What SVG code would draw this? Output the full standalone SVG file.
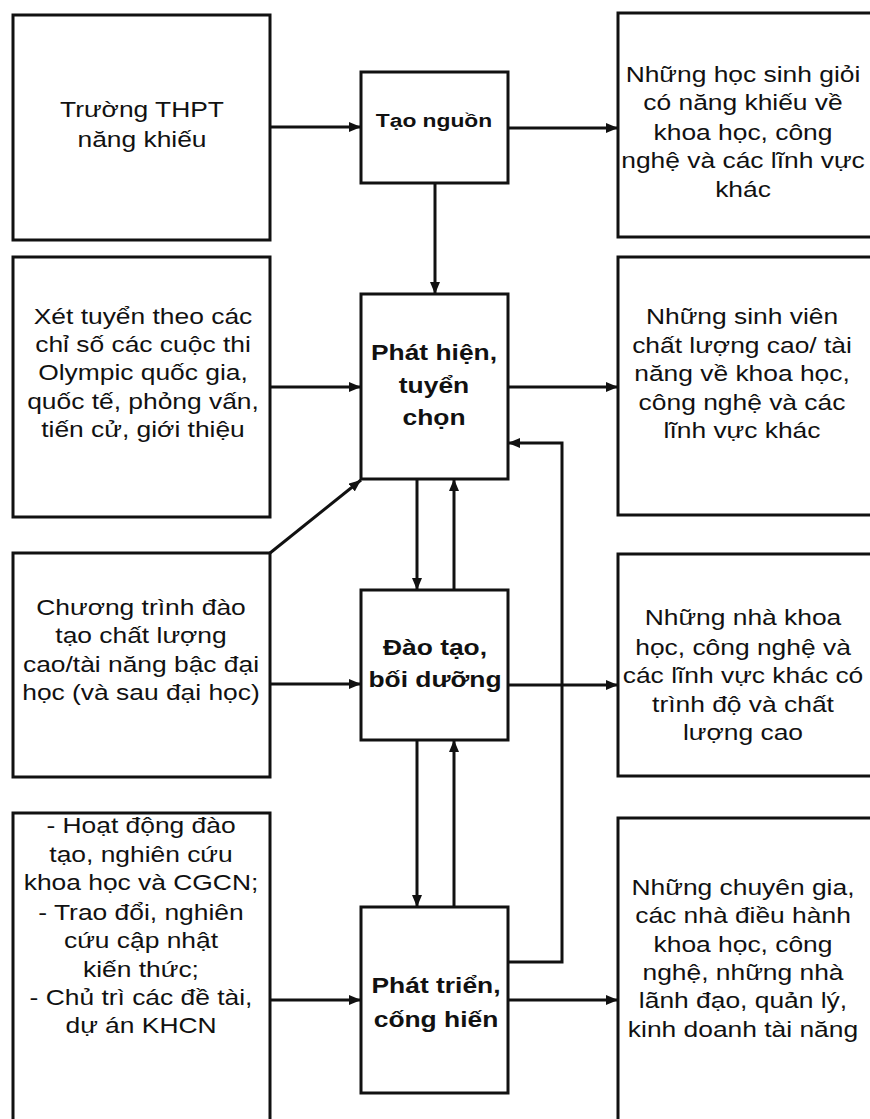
<svg xmlns="http://www.w3.org/2000/svg" width="870" height="1119" viewBox="0 0 870 1119">
<style>
.box{fill:#fff;stroke:#111;stroke-width:3}
.ln{fill:none;stroke:#111;stroke-width:3}
.t{font-family:"Liberation Sans",Arial,sans-serif;font-size:22px;fill:#111;text-anchor:middle}
.b{font-family:"Liberation Sans",Arial,sans-serif;font-size:22px;font-weight:bold;fill:#111;text-anchor:middle}
</style>
<defs>
<marker id="ah" viewBox="0 0 12 10" refX="12" refY="5" markerWidth="12" markerHeight="10" markerUnits="userSpaceOnUse" orient="auto">
<path d="M0,0 L12,5 L0,10 Z" fill="#111"/>
</marker>
</defs>
<rect width="870" height="1119" fill="#fff"/>

<g id="connectors">
<line class="ln" x1="270" y1="127" x2="361" y2="127" marker-end="url(#ah)"/>
<line class="ln" x1="508" y1="128" x2="618" y2="128" marker-end="url(#ah)"/>
<line class="ln" x1="435" y1="183" x2="435" y2="294" marker-end="url(#ah)"/>
<line class="ln" x1="270" y1="387" x2="361" y2="387" marker-end="url(#ah)"/>
<line class="ln" x1="508" y1="387" x2="618" y2="387" marker-end="url(#ah)"/>
<line class="ln" x1="270" y1="553" x2="361" y2="480" marker-end="url(#ah)"/>
<line class="ln" x1="417" y1="479" x2="417" y2="590" marker-end="url(#ah)"/>
<line class="ln" x1="454" y1="590" x2="454" y2="479" marker-end="url(#ah)"/>
<line class="ln" x1="270" y1="684" x2="361" y2="684" marker-end="url(#ah)"/>
<line class="ln" x1="508" y1="685" x2="618" y2="685" marker-end="url(#ah)"/>
<line class="ln" x1="417" y1="740" x2="417" y2="907" marker-end="url(#ah)"/>
<line class="ln" x1="454" y1="907" x2="454" y2="740" marker-end="url(#ah)"/>
<line class="ln" x1="270" y1="1000" x2="361" y2="1000" marker-end="url(#ah)"/>
<line class="ln" x1="508" y1="1000" x2="618" y2="1000" marker-end="url(#ah)"/>
<polyline class="ln" points="508,962 562,962 562,443 508,443" marker-end="url(#ah)"/>
</g>

<g id="n-truong">
<rect class="box" x="13" y="15" width="257" height="225"/>
<text class="t" transform="translate(142 0) scale(1.2 1)"><tspan x="0" y="117">Trường THPT</tspan><tspan x="0" y="147">năng khiếu</tspan></text>
</g>

<g id="n-xettuyen">
<rect class="box" x="13" y="257" width="257" height="260"/>
<text class="t" transform="translate(143 0) scale(1.2 1)"><tspan x="0" y="324">Xét tuyển theo các</tspan><tspan x="0" y="352">chỉ số các cuộc thi</tspan><tspan x="0" y="380">Olympic quốc gia,</tspan><tspan x="0" y="409">quốc tế, phỏng vấn,</tspan><tspan x="0" y="437">tiến cử, giới thiệu</tspan></text>
</g>

<g id="n-chuongtrinh">
<rect class="box" x="13" y="553" width="257" height="224"/>
<text class="t" transform="translate(141 0) scale(1.2 1)"><tspan x="0" y="615">Chương trình đào</tspan><tspan x="0" y="643">tạo  chất lượng</tspan><tspan x="0" y="672">cao/tài năng bậc đại</tspan><tspan x="0" y="700">học (và sau đại học)</tspan></text>
</g>

<g id="n-hoatdong">
<rect class="box" x="13" y="813" width="257" height="312"/>
<text class="t" transform="translate(141 0) scale(1.2 1)"><tspan x="0" y="833">- Hoạt động đào</tspan><tspan x="0" y="862">tạo, nghiên cứu</tspan><tspan x="0" y="890">khoa học và CGCN;</tspan><tspan x="0" y="920">- Trao đổi, nghiên</tspan><tspan x="0" y="948">cứu cập nhật</tspan><tspan x="0" y="977">kiến thức;</tspan><tspan x="0" y="1005">- Chủ trì các đề tài,</tspan><tspan x="0" y="1033">dự án KHCN</tspan></text>
</g>

<g id="n-taonguon">
<rect class="box" x="361" y="72" width="147" height="111"/>
<text class="b" font-size="19" transform="translate(434 0) scale(1.2 1)" style="font-size:19px"><tspan x="0" y="127">Tạo nguồn</tspan></text>
</g>

<g id="n-phathien">
<rect class="box" x="361" y="294" width="147" height="185"/>
<text class="b" transform="translate(434 0) scale(1.2 1)"><tspan x="0" y="360">Phát hiện,</tspan><tspan x="0" y="393">tuyển</tspan><tspan x="0" y="425">chọn</tspan></text>
</g>

<g id="n-daotao">
<rect class="box" x="361" y="590" width="147" height="150"/>
<text class="b" transform="translate(435 0) scale(1.2 1)"><tspan x="0" y="655">Đào tạo,</tspan><tspan x="0" y="687">bối dưỡng</tspan></text>
</g>

<g id="n-phattrien">
<rect class="box" x="361" y="907" width="147" height="186"/>
<text class="b" transform="translate(436 0) scale(1.2 1)"><tspan x="0" y="993">Phát triển,</tspan><tspan x="0" y="1027">cống hiến</tspan></text>
</g>

<g id="n-hocsinh">
<rect class="box" x="618" y="13" width="256" height="224"/>
<text class="t" transform="translate(743 0) scale(1.2 1)"><tspan x="0" y="82">Những học sinh giỏi</tspan><tspan x="0" y="110">có năng khiếu về</tspan><tspan x="0" y="140">khoa học, công</tspan><tspan x="0" y="168">nghệ và các lĩnh vực</tspan><tspan x="0" y="197">khác</tspan></text>
</g>

<g id="n-sinhvien">
<rect class="box" x="618" y="257" width="256" height="258"/>
<text class="t" transform="translate(742 0) scale(1.2 1)"><tspan x="0" y="324">Những sinh viên</tspan><tspan x="0" y="353">chất lượng cao/ tài</tspan><tspan x="0" y="381">năng về khoa học,</tspan><tspan x="0" y="410">công nghệ và các</tspan><tspan x="0" y="438">lĩnh vực khác</tspan></text>
</g>

<g id="n-nhakhoahoc">
<rect class="box" x="618" y="554" width="256" height="222"/>
<text class="t" transform="translate(743 0) scale(1.2 1)"><tspan x="0" y="625">Những nhà khoa</tspan><tspan x="0" y="655">học, công nghệ và</tspan><tspan x="0" y="683">các lĩnh vực khác có</tspan><tspan x="0" y="712">trình độ và chất</tspan><tspan x="0" y="740">lượng cao</tspan></text>
</g>

<g id="n-chuyengia">
<rect class="box" x="618" y="818" width="256" height="310"/>
<text class="t" transform="translate(743 0) scale(1.2 1)"><tspan x="0" y="895">Những chuyên gia,</tspan><tspan x="0" y="923">các nhà điều hành</tspan><tspan x="0" y="952">khoa học, công</tspan><tspan x="0" y="980">nghệ, những nhà</tspan><tspan x="0" y="1008">lãnh đạo, quản lý,</tspan><tspan x="0" y="1037">kinh doanh tài năng</tspan></text>
</g>
</svg>
